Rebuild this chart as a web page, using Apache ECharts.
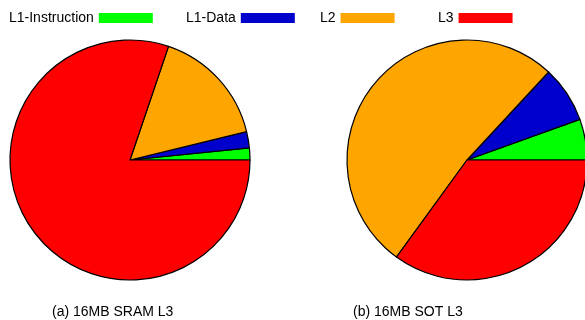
<!DOCTYPE html>
<html>
<head>
<meta charset="utf-8">
<script src="https://cdn.jsdelivr.net/npm/echarts@6/dist/echarts.min.js"></script>
<style>html,body{margin:0;padding:0;background:#fff}#c{width:585px;height:320px}</style>
</head>
<body>
<div id="c"></div>
<script>
const categories = ['L1-Instruction', 'L1-Data', 'L2', 'L3'];
const sramValues = [1.6, 2.2, 16.0, 80.2];
const sotValues = [5.5, 7.6, 51.9, 35.0];
const titles = ['(a) 16MB SRAM L3', '(b) 16MB SOT L3'];
const colors = ['#00ff00', '#0000cc', '#ffa500', '#ff0000'];

const font = 'Liberation Sans, Arial, Helvetica, sans-serif';
const legendLefts = [9, 186, 320, 438];

const chart = echarts.init(document.getElementById('c'), null, {renderer: 'canvas'});
function mk(vals) {
  return categories.map((n, i) => ({name: n, value: vals[i], itemStyle: {color: colors[i]}}));
}
const pieBase = {
  type: 'pie',
  radius: 120,
  startAngle: 0,
  clockwise: false,
  label: {show: false},
  labelLine: {show: false},
  emphasis: {disabled: true},
  animation: false,
  itemStyle: {borderColor: '#000', borderWidth: 1.2}
};
chart.setOption({
  animation: false,
  color: colors,
  title: [
    {text: titles[0], left: 52, top: 305, padding: 0, textStyle: {fontSize: 14, fontWeight: 'normal', color: '#000', fontFamily: font}},
    {text: titles[1], left: 353, top: 305, padding: 0, textStyle: {fontSize: 14, fontWeight: 'normal', color: '#000', fontFamily: font}}
  ],
  legend: categories.map((n, i) => ({
    data: [n],
    left: legendLefts[i],
    top: 11,
    align: 'right',
    icon: 'rect',
    itemWidth: 54,
    itemHeight: 10,
    itemStyle: {borderWidth: 0},
    textStyle: {fontSize: 14, color: '#000', fontFamily: font, padding: 0},
    padding: 0
  })),
  series: [
    Object.assign({}, pieBase, {name: titles[0], center: [130, 160], data: mk(sramValues)}),
    Object.assign({}, pieBase, {name: titles[1], center: [467, 160], data: mk(sotValues)})
  ]
});
</script>
</body>
</html>
